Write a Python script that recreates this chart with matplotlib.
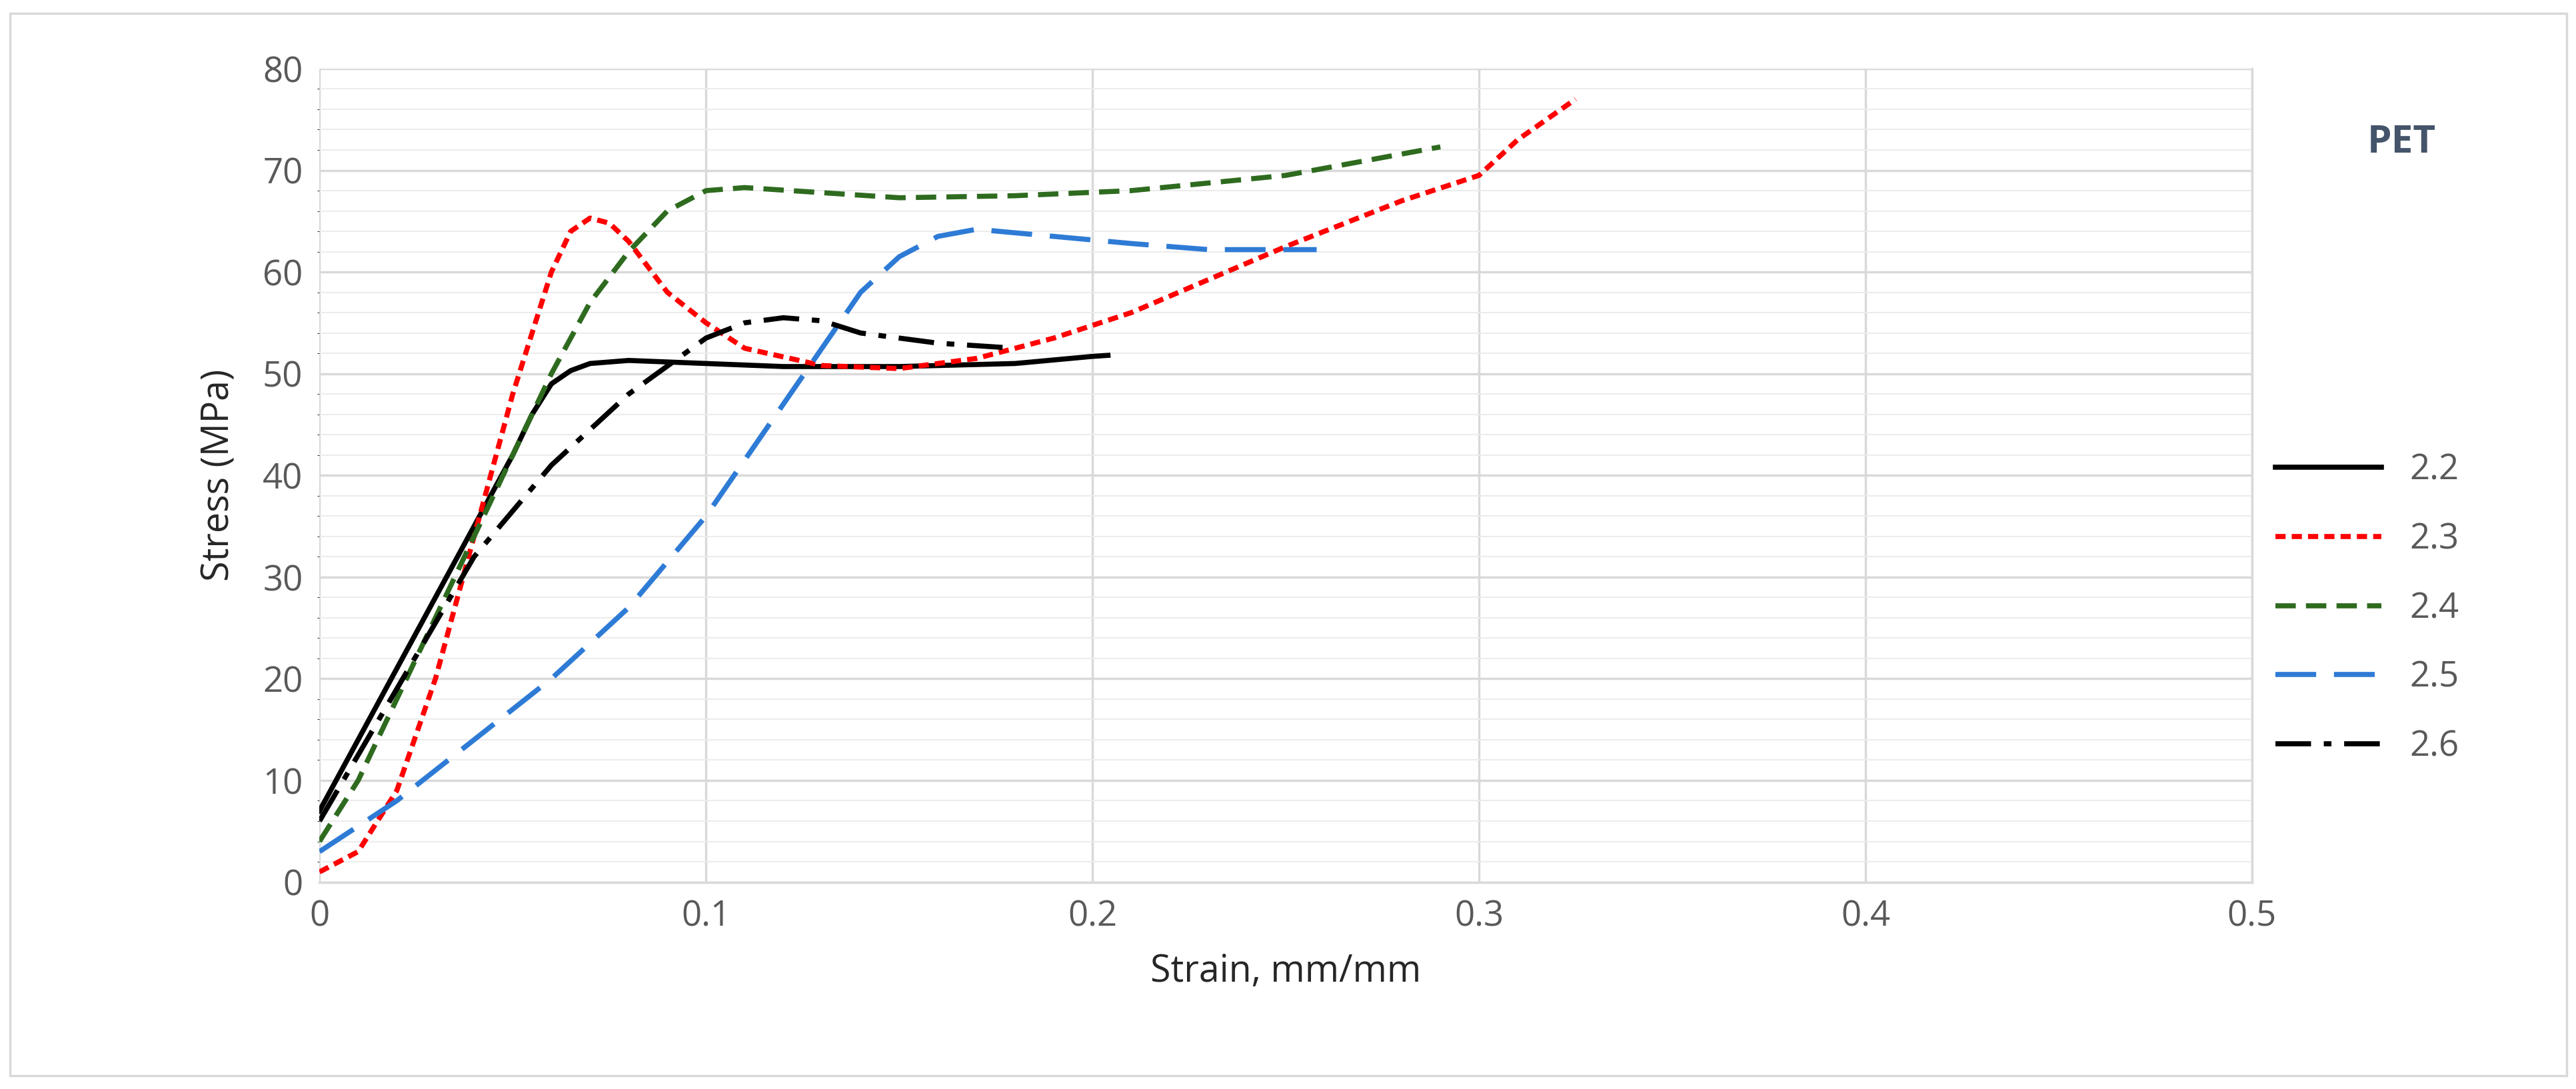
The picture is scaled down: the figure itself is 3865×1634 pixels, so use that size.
import matplotlib
matplotlib.use("Agg")
import matplotlib.pyplot as plt
from matplotlib.ticker import MultipleLocator

s22_x = [0,0.01,0.02,0.03,0.04,0.05,0.055,0.06,0.065,0.07,0.08,0.1,0.12,0.15,0.18,0.2,0.204]
s22_y = [7,14,21,28,35,42,46,49,50.3,51,51.3,51,50.7,50.7,51,51.7,51.8]
s23_x = [0,0.01,0.02,0.03,0.04,0.05,0.06,0.065,0.07,0.075,0.08,0.09,0.1,0.11,0.13,0.15,0.17,0.19,0.21,0.25,0.28,0.3,0.31,0.325]
s23_y = [1,3,9,20,34,48,60,64,65.3,64.8,63,58,55,52.5,50.8,50.5,51.5,53.5,56,62.5,67,69.5,73,77]
s24_x = [0,0.01,0.02,0.03,0.04,0.05,0.06,0.07,0.08,0.09,0.1,0.11,0.13,0.15,0.18,0.21,0.25,0.29]
s24_y = [4,10,18,26,34,42,50,57,62,66,68,68.3,67.8,67.3,67.5,68,69.5,72.3]
s25_x = [0,0.02,0.04,0.06,0.08,0.1,0.12,0.14,0.15,0.16,0.17,0.19,0.21,0.23,0.258]
s25_y = [3,8,14,20,27,36,47,58,61.5,63.5,64.2,63.5,62.8,62.2,62.2]
s26_x = [0,0.02,0.04,0.06,0.08,0.1,0.11,0.12,0.13,0.14,0.16,0.18]
s26_y = [6,19,32,41,48,53.5,55,55.5,55.2,54,53,52.5]
labels = ["2.2","2.3","2.4","2.5","2.6"]

plt.rcParams['font.family'] = ['Open Sans', 'DejaVu Sans']
gray = "#595959"
fig = plt.figure(figsize=(38.66,16.34), dpi=100)
ax = fig.add_axes([0.124,0.19,0.75,0.747])
lw = 5.5
ax.plot(s22_x,s22_y,color="black",lw=lw,label=labels[0])
ax.plot(s23_x,s23_y,color="#ff0000",lw=lw,linestyle=(0,(2,1.2)),label=labels[1])
ax.plot(s24_x,s24_y,color="#2e6b1f",lw=lw,linestyle=(0,(4,2)),label=labels[2])
ax.plot(s25_x,s25_y,color="#2e7bd6",lw=lw,linestyle=(0,(8,3.5)),label=labels[3])
ax.plot(s26_x,s26_y,color="black",lw=lw,linestyle=(0,(7,2.5,1.5,2.5)),label=labels[4])
ax.set_xlim(0,0.5); ax.set_ylim(0,80)
ax.xaxis.set_major_locator(MultipleLocator(0.1))
ax.yaxis.set_major_locator(MultipleLocator(10))
ax.yaxis.set_minor_locator(MultipleLocator(2))
ax.grid(which="major",color="#d9d9d9",lw=2.5)
ax.grid(which="minor",axis="y",color="#ececec",lw=1.5)
ax.set_axisbelow(True)
for s in ["top","left"]:
    ax.spines[s].set_visible(False)
ax.spines["bottom"].set_color("#d9d9d9"); ax.spines["bottom"].set_linewidth(2.5)
ax.spines["right"].set_color("#d9d9d9"); ax.spines["right"].set_linewidth(2.5)
ax.tick_params(length=0,labelsize=38,labelcolor=gray,pad=18)
ax.set_xticks([0,0.1,0.2,0.3,0.4,0.5]); ax.set_xticklabels(["0","0.1","0.2","0.3","0.4","0.5"])
ax.set_xlabel("Strain, mm/mm",fontsize=40,color="#262626",labelpad=20)
ax.set_ylabel("Stress (MPa)",fontsize=40,color="#262626",labelpad=26)
fig.text(0.932,0.86,"PET",fontsize=42,fontweight="bold",color="#44546a",ha="center")
leg = ax.legend(loc="center left",bbox_to_anchor=(1.005,0.336),frameon=False,fontsize=38,
                handlelength=3.0,labelspacing=0.95,labelcolor=gray,borderaxespad=0)
fig.add_artist(plt.Rectangle((0.004,0.012),0.992,0.976,transform=fig.transFigure,fill=False,edgecolor="#d9d9d9",lw=2.5))
fig.savefig("out.png",dpi=100)
